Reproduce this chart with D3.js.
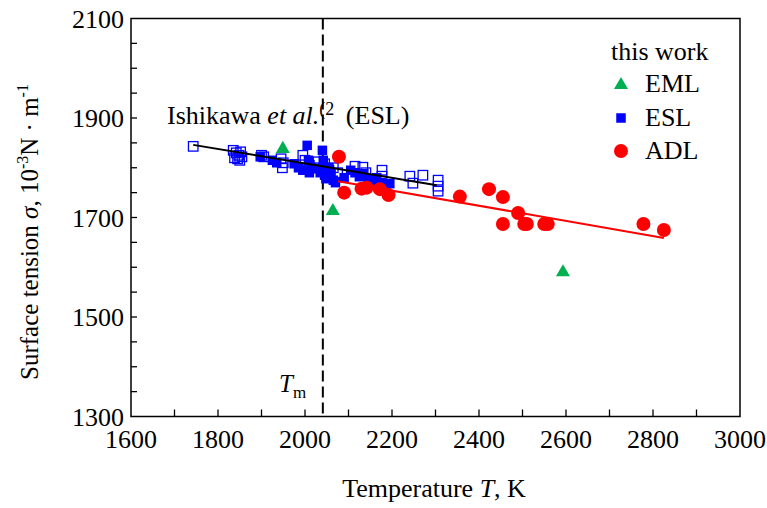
<!DOCTYPE html>
<html><head><meta charset="utf-8">
<script src="https://cdn.jsdelivr.net/npm/d3@7"></script>
<style>body{margin:0;background:#fff}svg{display:block;font-family:"Liberation Serif","Times New Roman",serif}</style>
</head><body><svg id="c" width="767" height="508"></svg>
<script>
// Ishikawa et al. ESL (open squares)
const ishikawaESL = [[1743,1843],[1835,1835],[1842,1830],[1848,1825],[1845,1818],[1852,1832],[1855,1822],[1838,1820],[1850,1815],[1900,1825],[1905,1822],[1945,1818],[1948,1800],[1950,1810],[1995,1825],[2000,1815],[2010,1805],[2020,1800],[2030,1812],[2045,1808],[2055,1795],[2065,1800],[2075,1790],[2115,1803],[2133,1801],[2140,1790],[2177,1795],[2177,1783],[2241,1783],[2248,1769],[2271,1785],[2306,1775],[2306,1763],[2306,1753]];
// this work
const eml = [[1949,1840],[2064,1715],[2593,1592]];
const esl = [[1897,1822],[1925,1815],[1935,1810],[1975,1808],[1985,1800],[1995,1795],[2005,1845],[2008,1815],[2010,1790],[2015,1800],[2030,1798],[2035,1790],[2040,1835],[2042,1815],[2045,1785],[2048,1778],[2055,1800],[2060,1790],[2065,1775],[2070,1770],[2090,1780],[2105,1795],[2115,1790],[2125,1782],[2135,1788],[2145,1778],[2155,1772],[2165,1780],[2175,1770],[2185,1765],[2195,1768]];
const adl = [[2078,1822],[2090,1750],[2130,1758],[2142,1760],[2172,1757],[2192,1745],[2356,1742],[2423,1757],[2455,1741],[2490,1709],[2455,1687],[2504,1687],[2510,1687],[2550,1687],[2558,1687],[2778,1687],[2825,1675]];
// fit lines
const fitIshikawa = [[1743,1846],[2303,1765]];
const fitADL = [[2076,1773],[2825,1659]];
const Tm = 2041;
const xTicks = [1600,1800,2000,2200,2400,2600,2800,3000];
const yTicks = [1300,1500,1700,1900,2100];

const svg = d3.select("#c");
const L=131,R=740,T=18.5,B=416.5;
const FS = 26;
const x = d3.scaleLinear().domain([1600,3000]).range([L,R]);
const y = d3.scaleLinear().domain([1300,2100]).range([B,T]);
const g = svg.append("g");

// frame
g.append("rect").attr("x",L).attr("y",T).attr("width",R-L).attr("height",B-T)
 .attr("fill","none").attr("stroke","#000").attr("stroke-width",1.5);

// x ticks (inside)
g.selectAll(".xt").data(d3.range(1600,3001,100).slice(1,-1)).join("line")
 .attr("x1",d=>x(d)).attr("x2",d=>x(d)).attr("y1",B).attr("y2",B-7)
 .attr("stroke","#000").attr("stroke-width",1.3);
g.selectAll(".xl").data(xTicks).join("text")
 .attr("x",d=>x(d)).attr("y",B+31).attr("text-anchor","middle")
 .attr("font-size",FS).text(d=>d);
// y ticks (inside)
g.selectAll(".yt").data(d3.range(1300,2101,50).slice(1,-1)).join("line")
 .attr("x1",L).attr("x2",L+6).attr("y1",d=>y(d)).attr("y2",d=>y(d))
 .attr("stroke","#000").attr("stroke-width",1.3);
g.selectAll(".yl").data(yTicks).join("text")
 .attr("x",L-7).attr("y",d=>y(d)+9).attr("text-anchor","end")
 .attr("font-size",FS).text(d=>d);

// axis titles
const xt = g.append("text").attr("x",434).attr("y",497).attr("text-anchor","middle").attr("font-size",FS);
xt.append("tspan").text("Temperature ");
xt.append("tspan").attr("font-style","italic").text("T");
xt.append("tspan").text(", K");
const yt = g.append("text").attr("transform","translate(38,232) rotate(-90)").attr("text-anchor","middle").attr("font-size",25);
yt.append("tspan").text("Surface tension ");
yt.append("tspan").attr("font-style","italic").text("σ");
yt.append("tspan").text(", 10");
yt.append("tspan").attr("font-size",16).attr("dy",-10).text("-3");
yt.append("tspan").attr("dy",10).text("N · m");
yt.append("tspan").attr("font-size",16).attr("dy",-10).text("-1");

// Tm dashed line
g.append("line").attr("x1",x(Tm)).attr("x2",x(Tm)).attr("y1",T).attr("y2",B)
 .attr("stroke","#000").attr("stroke-width",2).attr("stroke-dasharray","11,5");
const tm = g.append("text").attr("x",279).attr("y",392).attr("font-size",25);
tm.append("tspan").attr("font-style","italic").text("T");
tm.append("tspan").attr("font-size",17).attr("dy",6).text("m");

// Ishikawa label
const ish = g.append("text").attr("x",167).attr("y",124).attr("font-size",FS);
ish.append("tspan").text("Ishikawa ");
ish.append("tspan").attr("font-style","italic").text("et al.");
ish.append("tspan").attr("font-size",18).attr("dy",-9).text("(2");
ish.append("tspan").attr("dy",9).attr("dx",5).text(" (ESL)");

const s = 9.5;
// open squares
g.selectAll(".os").data(ishikawaESL).join("rect")
 .attr("x",d=>x(d[0])-s/2).attr("y",d=>y(d[1])-s/2).attr("width",s).attr("height",s)
 .attr("fill","none").attr("stroke","#0000ff").attr("stroke-width",1.3);
// filled squares
g.selectAll(".fs").data(esl).join("rect")
 .attr("x",d=>x(d[0])-s/2).attr("y",d=>y(d[1])-s/2).attr("width",s).attr("height",s)
 .attr("fill","#0000ff");
// red circles
g.selectAll(".rc").data(adl).join("circle")
 .attr("cx",d=>x(d[0])).attr("cy",d=>y(d[1])).attr("r",7).attr("fill","#ff0000");
// fit lines
const line = d3.line().x(d=>x(d[0])).y(d=>y(d[1]));
g.append("path").attr("d",line(fitIshikawa)).attr("stroke","#000").attr("stroke-width",2).attr("fill","none");
g.append("path").attr("d",line(fitADL)).attr("stroke","#ff0000").attr("stroke-width",2).attr("fill","none");
// triangles
const tri = d3.symbol().type(d3.symbolTriangle).size(85);
g.selectAll(".tr").data(eml).join("path")
 .attr("transform",d=>`translate(${x(d[0])},${y(d[1])+1})`).attr("d",tri).attr("fill","#00b050");

// legend
g.append("text").attr("x",611).attr("y",60).attr("font-size",FS).text("this work");
const leg = [["EML",84],["ESL",118],["ADL",151]];
g.append("path").attr("transform",`translate(621,${leg[0][1]+1})`).attr("d",tri).attr("fill","#00b050");
g.append("rect").attr("x",621-s/2).attr("y",leg[1][1]-s/2).attr("width",s).attr("height",s).attr("fill","#0000ff");
g.append("circle").attr("cx",621).attr("cy",leg[2][1]).attr("r",7).attr("fill","#ff0000");
g.selectAll(".lt").data(leg).join("text").attr("x",645).attr("y",d=>d[1]+8).attr("font-size",FS).text(d=>d[0]);
</script></body></html>
